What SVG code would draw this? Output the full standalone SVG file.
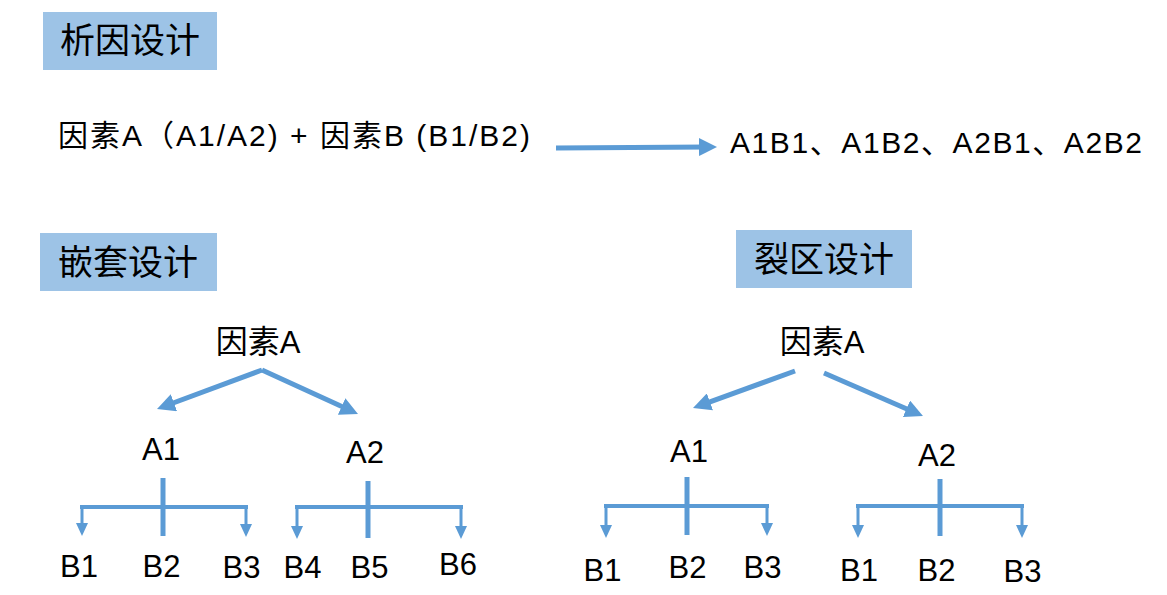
<svg xmlns="http://www.w3.org/2000/svg" width="1167" height="595" viewBox="0 0 1167 595">
<style>
.box{fill:#9DC3E6}
.title{font-family:"Noto Sans CJK SC","Liberation Sans",sans-serif;font-size:35px;fill:#000;text-anchor:middle}
.lbl{font-family:"Liberation Sans","Noto Sans CJK SC",sans-serif;font-size:31px;fill:#000;text-anchor:middle}
.cjk{font-family:"Noto Sans CJK SC",sans-serif;font-size:32px}
.formula{font-family:"Liberation Sans","Noto Sans CJK SC",sans-serif;font-size:30px;fill:#000}
.arr{stroke:#5B9BD5;stroke-width:5;fill:none;marker-end:url(#big)}
.stem{stroke:#5B9BD5;stroke-width:5;fill:none}
.bar{stroke:#5B9BD5;stroke-width:4;fill:none;stroke-linecap:square}
.drop{stroke:#5B9BD5;stroke-width:3;fill:none;marker-end:url(#small)}
</style>
<defs>
<marker id="big" markerUnits="userSpaceOnUse" markerWidth="18" markerHeight="18" refX="8" refY="9" orient="auto">
<path d="M0,0 L18,9 L0,18 Z" fill="#5B9BD5"/>
</marker>
<marker id="small" markerUnits="userSpaceOnUse" markerWidth="13" markerHeight="12" refX="6" refY="6" orient="auto">
<path d="M0,0 L13,6 L0,12 Z" fill="#5B9BD5"/>
</marker>
</defs>
<rect width="1167" height="595" fill="#fff"/>

<g id="title-factorial"><rect class="box" x="43" y="12" width="174" height="58"/><text class="title" x="130" y="53">析因设计</text></g>
<g id="title-nested"><rect class="box" x="40" y="233" width="177" height="58"/><text class="title" x="128" y="275">嵌套设计</text></g>
<g id="title-split"><rect class="box" x="736" y="230" width="176" height="58"/><text class="title" x="824" y="272">裂区设计</text></g>

<g id="formula"><text class="formula" x="58" y="146" textLength="472" lengthAdjust="spacing">因素A（A1/A2) + 因素B (B1/B2)</text></g>
<g id="result"><text class="formula" x="730" y="153" textLength="412" lengthAdjust="spacing">A1B1、A1B2、A2B1、A2B2</text></g>

<g id="nested-A"><text class="lbl" x="258" y="353"><tspan class="cjk">因素</tspan>A</text></g>
<g id="nested-A1"><text class="lbl" x="161" y="460">A1</text></g>
<g id="nested-A2"><text class="lbl" x="365" y="463">A2</text></g>
<g id="nested-B1"><text class="lbl" x="79" y="577">B1</text></g>
<g id="nested-B2"><text class="lbl" x="161.5" y="577">B2</text></g>
<g id="nested-B3"><text class="lbl" x="241.5" y="578">B3</text></g>
<g id="nested-B4"><text class="lbl" x="302.5" y="578">B4</text></g>
<g id="nested-B5"><text class="lbl" x="369.5" y="578">B5</text></g>
<g id="nested-B6"><text class="lbl" x="458" y="575">B6</text></g>

<g id="split-A"><text class="lbl" x="822" y="353"><tspan class="cjk">因素</tspan>A</text></g>
<g id="split-A1"><text class="lbl" x="689" y="462">A1</text></g>
<g id="split-A2"><text class="lbl" x="937" y="466">A2</text></g>
<g id="split-B1a"><text class="lbl" x="602.5" y="581">B1</text></g>
<g id="split-B2a"><text class="lbl" x="687.5" y="578">B2</text></g>
<g id="split-B3a"><text class="lbl" x="762.5" y="578">B3</text></g>
<g id="split-B1b"><text class="lbl" x="859" y="581">B1</text></g>
<g id="split-B2b"><text class="lbl" x="936.5" y="581">B2</text></g>
<g id="split-B3b"><text class="lbl" x="1022.5" y="582">B3</text></g>

<g id="connectors">
<line class="arr" x1="556" y1="148" x2="707" y2="147"/>
<line class="arr" x1="262" y1="370" x2="166.4" y2="405.5"/>
<line class="arr" x1="262" y1="370" x2="348.9" y2="409.8"/>
<line class="arr" x1="795" y1="371" x2="702.4" y2="404.6"/>
<line class="arr" x1="824" y1="373" x2="913.8" y2="412"/>

<line class="stem" x1="163" y1="478" x2="163" y2="536"/>
<line class="bar" x1="82" y1="507" x2="246" y2="507"/>
<line class="drop" x1="82" y1="507" x2="82" y2="529"/>
<line class="drop" x1="246" y1="507" x2="246" y2="530"/>

<line class="stem" x1="368" y1="481" x2="368" y2="538"/>
<line class="bar" x1="297" y1="507" x2="461" y2="507"/>
<line class="drop" x1="297" y1="507" x2="297" y2="532"/>
<line class="drop" x1="461" y1="507" x2="461" y2="532"/>

<line class="stem" x1="687" y1="477" x2="687" y2="535"/>
<line class="bar" x1="606" y1="506" x2="767" y2="506"/>
<line class="drop" x1="606" y1="506" x2="606" y2="531"/>
<line class="drop" x1="767" y1="506" x2="767" y2="529"/>

<line class="stem" x1="940" y1="479" x2="940" y2="536"/>
<line class="bar" x1="858" y1="506" x2="1022" y2="506"/>
<line class="drop" x1="858" y1="506" x2="858" y2="531"/>
<line class="drop" x1="1022" y1="506" x2="1022" y2="531"/>
</g>
</svg>
